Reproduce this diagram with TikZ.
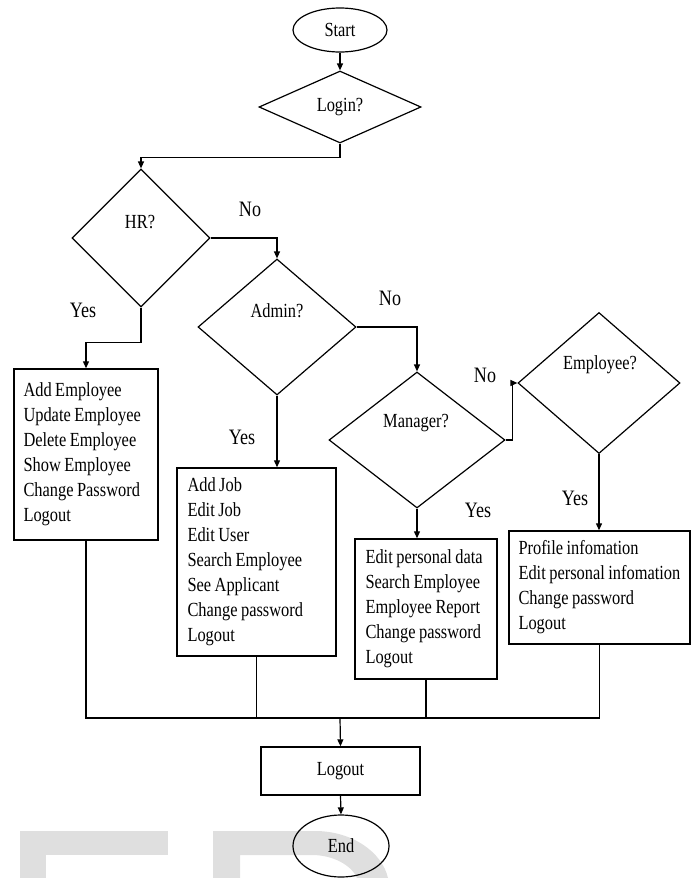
\documentclass[tikz,border=0pt]{standalone}
\usepackage{fontspec}
\setmainfont{Liberation Serif}[FakeStretch=0.82]
\usetikzlibrary{shapes.geometric,arrows.meta,calc}
\begin{document}
\begin{tikzpicture}[x=1pt,y=-1pt,
  every node/.style={font={\fontsize{20}{25}\selectfont\spaceskip=3.5pt\relax}},
  ln/.style={line width=1.2pt},
  arr/.style={ln,-{Triangle[length=7pt,width=6pt]}},
  dec/.style={diamond,draw,line width=1.2pt,inner sep=0pt},
  term/.style={ellipse,draw,line width=1.2pt,inner sep=0pt},
  box/.style={rectangle,draw,line width=1.4pt,inner sep=0pt},
  txt/.style={align=left,anchor=west,inner sep=0pt},
  lbl/.style={font={\fontsize{22}{24}\selectfont},inner sep=0pt},
  wm/.style={fill=gray!25}]
\useasboundingbox (0,0) rectangle (694,878);
% watermark fragments
\fill[wm] (20,831) rectangle (168,855);
\fill[wm] (20,855) rectangle (46,878);
\fill[wm,even odd rule] (213,831) -- (315,831) .. controls (352,831) and (382,852) .. (388,878) -- (213,878) -- cycle
  (240,855) -- (312,855) .. controls (334,855) and (352,866) .. (357,878) -- (240,878) -- cycle;
% nodes
\node[term,minimum width=94pt,minimum height=44pt] (start) at (340,30) {Start};
\node[dec,minimum width=162pt,minimum height=72pt] (login) at (340,107) {Login?};
\node[dec,minimum width=138pt,minimum height=138pt] (hr) at (141,238) {};
\node (hrt) at (140,222) {HR?};
\node[dec,minimum width=158pt,minimum height=136pt] (admin) at (277,327) {};
\node (admint) at (277,311) {Admin?};
\node[dec,minimum width=176pt,minimum height=136pt] (mgr) at (417,440) {};
\node (mgrt) at (416,423) {Manager?};
\node[dec,minimum width=162pt,minimum height=141pt] (emp) at (599,383) {};
\node (empt) at (600,365) {Employee?};
\node[box,minimum width=144pt,minimum height=171pt] (hrbox) at (86,454.5) {};
\node[txt] (hrboxt) at ([xshift=10pt]hrbox.west)
  {Add Employee\\Update Employee\\Delete Employee\\Show Employee\\Change Password\\Logout};
\node[box,minimum width=159pt,minimum height=188pt] (adminbox) at (256.5,562) {};
\node[txt] (adminboxt) at ([xshift=11pt]adminbox.west)
  {Add Job\\Edit Job\\Edit User\\Search Employee\\See Applicant\\Change password\\Logout};
\node[box,minimum width=142pt,minimum height=140pt] (mgrbox) at (426,609) {};
\node[txt] (mgrboxt) at ([xshift=11pt]mgrbox.west)
  {Edit personal data\\Search Employee\\Employee Report\\Change password\\Logout};
\node[box,minimum width=181pt,minimum height=113pt] (empbox) at (599.5,587.5) {};
\node[txt] (empboxt) at ([xshift=10pt]empbox.west)
  {Profile infomation\\Edit personal infomation\\Change password\\Logout};
\node[box,minimum width=159pt,minimum height=48pt] (logout) at (340.5,771) {Logout};
\node[term,minimum width=96pt,minimum height=62pt] (end) at (341,846) {End};
% labels
\node[lbl] (l1) at (250,209) {No};
\node[lbl] (l2) at (83,310) {Yes};
\node[lbl] (l3) at (390,298) {No};
\node[lbl] (l4) at (242,437) {Yes};
\node[lbl] (l5) at (485,375) {No};
\node[lbl] (l6) at (478,510) {Yes};
\node[lbl] (l7) at (575,498) {Yes};
\coordinate (j) at (340,718);
% connectors
\draw[arr] (start.south) -- (login.north);
\draw[arr] (login.south) -- ++(0,14) -| (hr.north);
\draw[arr] (hr.east) -| (admin.north);
\draw[arr] (hr.south) -- ++(0,35) -| (hrbox.north);
\draw[arr] (admin.east) -| (mgr.north);
\draw[arr] (admin.south) -- (admin.south |- adminbox.north);
\draw[arr] (mgr.east) -- ++(7,0) |- (emp.west);
\draw[arr] (mgr.south) -- (mgr.south |- mgrbox.north);
\draw[arr] (emp.south) -- (emp.south |- empbox.north);
\draw[ln] (hrbox.south) |- (empbox.south |- j) -- (empbox.south);
\draw[ln] (adminbox.south) -- (adminbox.south |- j);
\draw[ln] (mgrbox.south) -- (mgrbox.south |- j);
\draw[arr] (j) -- (logout.north);
\draw[arr] (logout.south) -- (end.north);
\end{tikzpicture}
\end{document}
